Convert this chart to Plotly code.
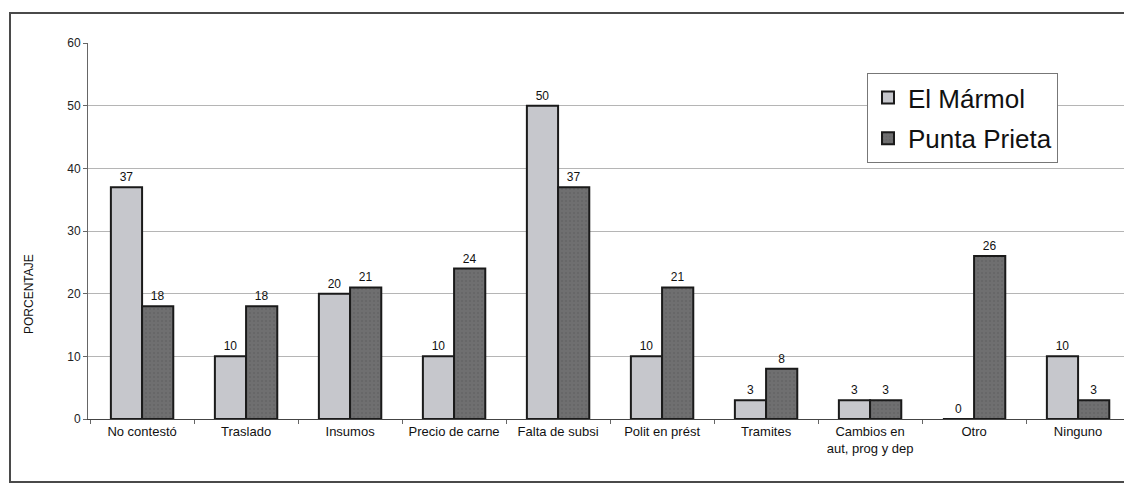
import plotly.graph_objects as go

categorias = ["No contestó", "Traslado", "Insumos", "Precio de carne", "Falta de subsi",
              "Polit en prést", "Tramites", "Cambios en<br>aut, prog y dep", "Otro", "Ninguno"]
el_marmol = [37, 10, 20, 10, 50, 10, 3, 3, 0, 10]
punta_prieta = [18, 18, 21, 24, 37, 21, 8, 3, 26, 3]

W, H = 1124, 486
ML, MT, MB = 88, 43, 486 - 419
pw, ph = W - ML, H - MT - MB
CAT_PX = 104

def px_x(p):
    return (p - ML) / pw

def px_y(p):
    return (H - MB - p) / ph

lbl_font = dict(family="Liberation Sans, Arial", size=12, color="#111")

fig = go.Figure()
fig.add_trace(go.Bar(
    x=categorias, y=el_marmol, name="El Mármol", legendgroup="a",
    marker=dict(color="#c6c7cc", line=dict(color="#1a1a1a", width=2)),
    text=el_marmol, textposition="outside", textfont=lbl_font, cliponaxis=False,
))
fig.add_trace(go.Bar(
    x=categorias, y=punta_prieta, name="Punta Prieta", legendgroup="b",
    marker=dict(color="#6f6f70", line=dict(color="#1a1a1a", width=2),
                pattern=dict(shape=".", fgcolor="#5a5a5a", size=4, solidity=0.2)),
    text=punta_prieta, textposition="outside", textfont=lbl_font, cliponaxis=False,
))

x0 = -0.52
fig.update_layout(
    width=W, height=H,
    margin=dict(l=ML, r=0, t=MT, b=MB),
    paper_bgcolor="white", plot_bgcolor="white",
    barmode="group", bargap=0.4, bargroupgap=0,
    font=dict(family="Liberation Sans, Arial", color="#222"),
    showlegend=True,
    legend=dict(
        x=px_x(867), y=px_y(73), xanchor="left", yanchor="top",
        font=dict(size=26, color="#111"),
        bgcolor="white", bordercolor="#777", borderwidth=1,
        traceorder="grouped", tracegroupgap=4,
    ),
    xaxis=dict(
        range=[x0, x0 + pw / CAT_PX], showgrid=False, showline=True, linecolor="#444", linewidth=1,
        ticks="outside", tickson="boundaries", ticklen=4, tickcolor="#666",
        tickfont=dict(size=13, color="#111"),
    ),
    yaxis=dict(
        range=[0, 60], dtick=10, showgrid=True, gridcolor="#b5b5b5", gridwidth=1,
        showline=True, linecolor="#666", linewidth=1,
        ticks="outside", ticklen=4, tickcolor="#666",
        tickfont=dict(size=12, color="#222"), zeroline=False,
    ),
    annotations=[dict(
        text="PORCENTAJE", textangle=-90, xref="paper", yref="paper",
        x=px_x(29), y=px_y(294), xanchor="center", yanchor="middle",
        showarrow=False, font=dict(size=12, color="#111"),
    )],
    shapes=[dict(
        type="rect", xref="paper", yref="paper",
        x0=px_x(10), x1=px_x(1160), y0=px_y(482), y1=px_y(13),
        line=dict(color="#4a4a4a", width=2), layer="below",
    )],
)

# drop the browser's default body margin so the figure fills the window
fig.write_html(
    "out.html",
    config={"displayModeBar": False},
    post_script="document.body.style.margin='0';document.body.style.overflow='hidden';",
)
